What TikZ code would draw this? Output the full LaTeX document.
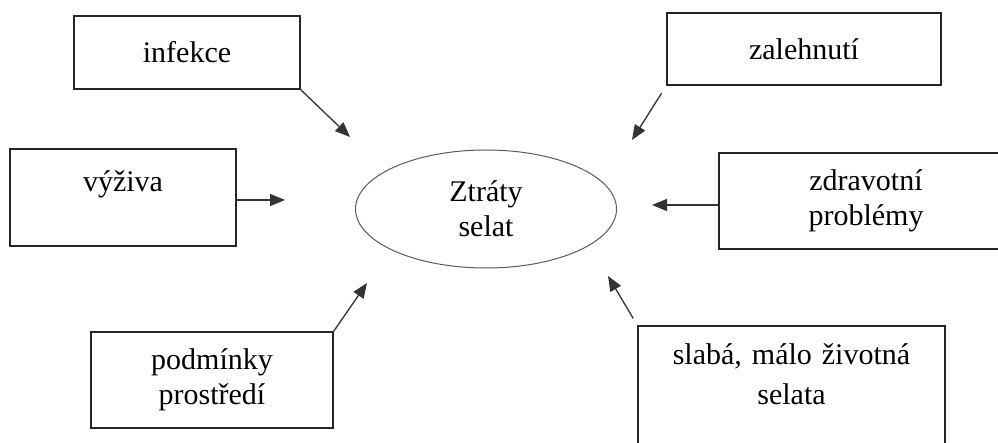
\documentclass[tikz,border=0pt]{standalone}
\usepackage{fontspec}
\setmainfont{Liberation Serif}
\usetikzlibrary{shapes.geometric}
\usetikzlibrary{arrows.meta}

\begin{document}
\begin{tikzpicture}[x=1pt,y=-1pt]
\tikzstyle{faktor}=[draw=black!85,line width=1.4pt,rectangle,align=center,font=\fontsize{30}{35}\selectfont];
\tikzstyle{ztraty}=[draw=black!65,line width=1pt,ellipse,minimum width=261pt,minimum height=118pt,inner sep=0pt,align=center,font=\fontsize{30}{35}\selectfont]
\tikzstyle{sipka}=[-{Triangle[length=15pt,width=12pt]},line width=1.3pt,draw=black!80]

\clip (0,0) rectangle (998,443); % okraje jako u puvodniho obrazku

\node[ztraty] (ztraty) at (486,209) {Ztráty\\selat};

\node[faktor,minimum width=226pt,minimum height=73pt] (infekce) at (187,52.5) {infekce};
\node[faktor,minimum width=274pt,minimum height=72pt] (zalehnuti) at (804,49) {zalehnutí};
\node[faktor,minimum width=226pt,inner ysep=0pt,text height=43pt,text depth=54pt] (vyziva) at (123,197.5) {výživa};
\node[faktor,minimum width=294pt,minimum height=96pt] (zdravotni) at (866,201) {zdravotní\\problémy};
\node[faktor,minimum width=242pt,minimum height=96pt] (podminky) at (212,380) {podmínky\\prostředí};
\node[faktor,minimum width=307pt,text width=280pt,inner ysep=0pt,text height=38pt,text depth=100pt] (slaba) at (791.5,395) {slabá, málo životná\\[5pt]selata};

% konce sipek kolem elipsy
\coordinate (kInfekce) at (350,137);
\coordinate (kZalehnuti) at (632,140);
\coordinate (kVyziva) at (285,200);
\coordinate (kZdravotni) at (652,205);
\coordinate (kPodminky) at (367,283);
\coordinate (kSlaba) at (608,276);

\draw[sipka] (infekce.south east) -- (kInfekce);
\draw[sipka,shorten <=9pt] (zalehnuti.south west) -- (kZalehnuti);
\draw[sipka] (vyziva.east |- kVyziva) -- (kVyziva);
\draw[sipka] (zdravotni.west |- kZdravotni) -- (kZdravotni);
\draw[sipka] (podminky.north east) -- (kPodminky);
\draw[sipka,shorten <=8pt] (slaba.north west) -- (kSlaba);
\end{tikzpicture}
\end{document}
